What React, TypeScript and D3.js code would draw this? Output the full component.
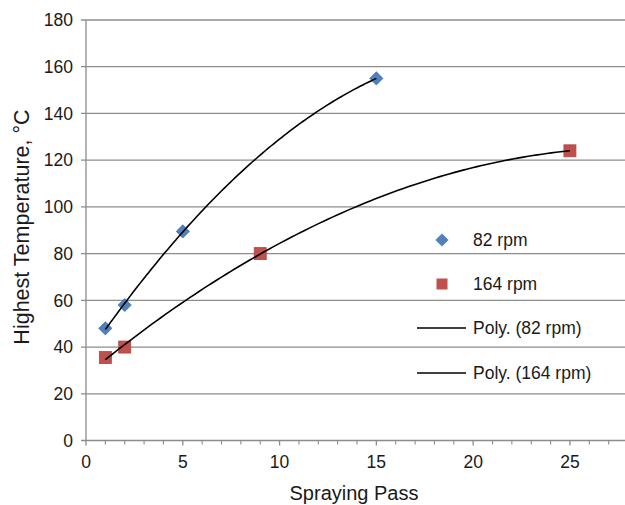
import React from "react";
import * as d3 from "d3";

// Spraying pass vs highest temperature for two spindle speeds
const passes82 = [1, 2, 5, 15];
const temps82 = [48, 58, 89.5, 155];
const passes164 = [1, 2, 9, 25];
const temps164 = [35.5, 40, 80, 124];
const yTicks = [0, 20, 40, 60, 80, 100, 120, 140, 160, 180];
const xTicks = [0, 5, 10, 15, 20, 25];
const legendLabels = ["82 rpm", "164 rpm", "Poly. (82 rpm)", "Poly. (164 rpm)"];

const W = 625;
const H = 505;
const M = { left: 86, top: 20, right: 628, bottom: 440.5 };
const FONT = "Liberation Sans, Arial, sans-serif";
const BLUE = "#4F81BD";
const RED = "#C0504D";
const GRID = "#8c8c8c";
const TICK_FS = 17.5;
const TITLE_FS = 20;
const YTITLE_FS = 21.5;

// Least-squares quadratic fit y = a + b x + c x^2
function polyFit2(xs: number[], ys: number[]): [number, number, number] {
  const S = (p: number) => d3.sum(xs, (x) => Math.pow(x, p));
  const T = (p: number) => d3.sum(xs, (x, i) => Math.pow(x, p) * ys[i]);
  const A = [
    [S(0), S(1), S(2), T(0)],
    [S(1), S(2), S(3), T(1)],
    [S(2), S(3), S(4), T(2)],
  ];
  for (let i = 0; i < 3; i++) {
    let piv = i;
    for (let r = i + 1; r < 3; r++) if (Math.abs(A[r][i]) > Math.abs(A[piv][i])) piv = r;
    [A[i], A[piv]] = [A[piv], A[i]];
    for (let r = 0; r < 3; r++) {
      if (r === i) continue;
      const f = A[r][i] / A[i][i];
      for (let c = i; c < 4; c++) A[r][c] -= f * A[i][c];
    }
  }
  return [A[0][3] / A[0][0], A[1][3] / A[1][1], A[2][3] / A[2][2]];
}

function trendPoints(xs: number[], ys: number[]): [number, number][] {
  const [a, b, c] = polyFit2(xs, ys);
  const lo = d3.min(xs)!;
  const hi = d3.max(xs)!;
  return d3.range(0, 101).map((i) => {
    const x = lo + ((hi - lo) * i) / 100;
    return [x, a + b * x + c * x * x];
  });
}

export default function App() {
  const x = d3.scaleLinear().domain([0, 28]).range([M.left, M.right]);
  const y = d3.scaleLinear().domain([0, 180]).range([M.bottom, M.top]);
  const line = d3
    .line<[number, number]>()
    .x((d) => x(d[0]))
    .y((d) => y(d[1]))
    .curve(d3.curveLinear);

  const minor = d3.range(1, 29).filter((v) => v % 5 !== 0);
  const diamond = d3.symbol().type(d3.symbolDiamond2).size(110)();
  const sq = 12;

  const legendX = 442;
  const legendRows = [240, 284, 328, 373];

  return (
    <svg width={W} height={H} style={{ display: "block", position: "absolute", left: 0, top: 0 }} fontFamily={FONT}>
      <rect width={W} height={H} fill="#fff" />
      {/* horizontal gridlines */}
      {yTicks.map((t) => (
        <line key={t} x1={M.left - 5} x2={W} y1={y(t)} y2={y(t)} stroke={GRID} strokeWidth={1.3} />
      ))}
      {/* y axis */}
      <line x1={M.left} x2={M.left} y1={M.top} y2={M.bottom} stroke={GRID} strokeWidth={1.3} />
      {/* x axis ticks */}
      {xTicks.map((t) => (
        <line key={"M" + t} x1={x(t)} x2={x(t)} y1={M.bottom} y2={M.bottom + 5} stroke={GRID} strokeWidth={1.3} />
      ))}
      {minor.map((t) => (
        <line key={"m" + t} x1={x(t)} x2={x(t)} y1={M.bottom} y2={M.bottom + 4} stroke={GRID} strokeWidth={1.1} />
      ))}
      {yTicks.map((t) => (
        <text key={"yl" + t} x={73} y={y(t)} dy="0.36em" textAnchor="end" fontSize={TICK_FS} fill="#1a1a1a">
          {t}
        </text>
      ))}
      {xTicks.map((t) => (
        <text key={"xl" + t} x={x(t)} y={468} textAnchor="middle" fontSize={TICK_FS} fill="#1a1a1a">
          {t}
        </text>
      ))}
      <text x={354} y={500} textAnchor="middle" fontSize={TITLE_FS} fill="#1a1a1a">
        Spraying Pass
      </text>
      <text
        transform={`translate(29, 227) rotate(-90)`}
        textAnchor="middle"
        fontSize={YTITLE_FS}
        fill="#1a1a1a"
      >
        Highest Temperature, °C
      </text>

      {/* markers */}
      {passes82.map((p, i) => (
        <path
          key={"b" + i}
          d={diamond!}
          transform={`translate(${x(p)},${y(temps82[i])})`}
          fill={BLUE}
          stroke="#3f6ea8"
          strokeWidth={0.8}
        />
      ))}
      {passes164.map((p, i) => (
        <rect
          key={"r" + i}
          x={x(p) - sq / 2}
          y={y(temps164[i]) - sq / 2}
          width={sq}
          height={sq}
          fill={RED}
          stroke="#b04440"
          strokeWidth={0.8}
        />
      ))}

      {/* polynomial trendlines */}
      <path d={line(trendPoints(passes82, temps82))!} fill="none" stroke="#000" strokeWidth={1.6} />
      <path d={line(trendPoints(passes164, temps164))!} fill="none" stroke="#000" strokeWidth={1.6} />

      {/* legend */}
      <path d={diamond!} transform={`translate(${legendX},${legendRows[0]})`} fill={BLUE} />
      <rect x={legendX - 5.5} y={legendRows[1] - 5.5} width={11} height={11} fill={RED} />
      <line x1={417} x2={466} y1={legendRows[2]} y2={legendRows[2]} stroke="#000" strokeWidth={1.6} />
      <line x1={417} x2={466} y1={legendRows[3]} y2={legendRows[3]} stroke="#000" strokeWidth={1.6} />
      {legendLabels.map((l, i) => (
        <text key={l} x={473} y={legendRows[i]} dy="0.36em" fontSize={TICK_FS} fill="#1a1a1a">
          {l}
        </text>
      ))}
    </svg>
  );
}
